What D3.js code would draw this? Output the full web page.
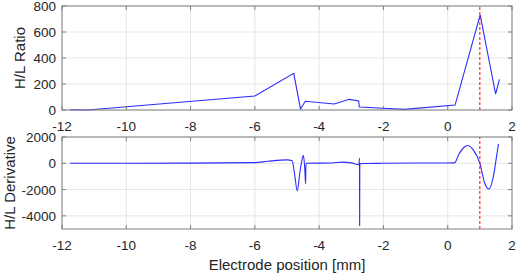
<!DOCTYPE html>
<html>
<head>
<meta charset="utf-8">
<script src="https://cdn.jsdelivr.net/npm/d3@7"></script>
<style>
  body { margin: 0; background: #fff; }
  svg text { font-family: "Liberation Sans", Arial, sans-serif; fill: #262626; }
</style>
</head>
<body>
<div id="chart"></div>
<script>
// H/L ratio along the electrode (mm, ratio)
const ratioX = [-11.75, -11.2, -6.0, -4.79, -4.58, -4.43, -3.53, -3.06, -2.77, -2.75, -2.0, -1.35, 0.23, 1.01, 1.49, 1.61];
const ratioY = [2, 0, 108, 282, 8, 67, 46, 82, 69, 23, 13, 5, 38, 731, 123, 236];

// derivative of the H/L ratio
const derivX = [-11.75, -8.0, -6.0, -5.6, -5.0, -4.84, -4.76, -4.68, -4.6, -4.53, -4.49, -4.45, -4.42, -4.41, -3.6, -3.3, -3.0, -2.76, -2.745, -2.74, -2.735, -2.6, -2.0, -1.0, 0.21, 0.35, 0.5, 0.62, 0.8, 1.0, 1.15, 1.28, 1.42, 1.5, 1.58];
const derivY = [0, 10, 50, 150, 260, 200, -900, -2100, -700, 300, 600, -300, -1560, 0, 20, 90, 30, -100, 400, -4750, -40, -20, 0, 20, 30, 700, 1200, 1350, 1000, 0, -1500, -1960, -1000, 200, 1480];

const xTicks = [-12, -10, -8, -6, -4, -2, 0, 2];
const ratioTicks = [0, 200, 400, 600, 800];
const derivTicks = [-4000, -2000, 0, 2000];
const markerX = 1.0;

const width = 522, height = 277;
const svg = d3.select('#chart').append('svg')
    .attr('width', width)
    .attr('height', height);

const x = d3.scaleLinear().domain([-12, 2]).range([62, 512]);

// one panel: box, grid, ticks, line
function drawPanel(xs, ys, yDomain, yRange, yTicks, label, labelX, curve) {
    const y = d3.scaleLinear().domain(yDomain).range(yRange);
    const g = svg.append('g');

    // grid
    g.selectAll('.gx').data(xTicks).enter().append('line')
        .attr('x1', d => x(d)).attr('x2', d => x(d))
        .attr('y1', yRange[0]).attr('y2', yRange[1])
        .attr('stroke', '#e6e6e6');
    g.selectAll('.gy').data(yTicks).enter().append('line')
        .attr('x1', 62).attr('x2', 512)
        .attr('y1', d => y(d)).attr('y2', d => y(d))
        .attr('stroke', '#e6e6e6');

    // data line
    const pts = xs.map((d, i) => [d, ys[i]]);
    g.append('path')
        .datum(pts)
        .attr('fill', 'none')
        .attr('stroke', '#2b2bff')
        .attr('stroke-width', 1.1)
        .attr('d', d3.line().x(d => x(d[0])).y(d => y(d[1])).curve(curve));

    // marker line
    g.append('line')
        .attr('x1', x(markerX)).attr('x2', x(markerX))
        .attr('y1', yRange[0]).attr('y2', yRange[1])
        .attr('stroke', '#ff0000')
        .attr('stroke-dasharray', '3,2');

    // box + inward ticks
    g.append('rect')
        .attr('x', 62).attr('y', yRange[1])
        .attr('width', 450).attr('height', yRange[0] - yRange[1])
        .attr('fill', 'none').attr('stroke', '#808080');
    xTicks.forEach(t => {
        g.append('line').attr('x1', x(t)).attr('x2', x(t))
            .attr('y1', yRange[0]).attr('y2', yRange[0] - 4).attr('stroke', '#808080');
        g.append('line').attr('x1', x(t)).attr('x2', x(t))
            .attr('y1', yRange[1]).attr('y2', yRange[1] + 4).attr('stroke', '#808080');
    });
    yTicks.forEach(t => {
        g.append('line').attr('x1', 62).attr('x2', 66)
            .attr('y1', y(t)).attr('y2', y(t)).attr('stroke', '#808080');
        g.append('line').attr('x1', 512).attr('x2', 508)
            .attr('y1', y(t)).attr('y2', y(t)).attr('stroke', '#808080');
    });

    // tick labels
    g.selectAll('.xl').data(xTicks).enter().append('text')
        .attr('x', d => x(d)).attr('y', yRange[0] + 20.5)
        .attr('text-anchor', 'middle')
        .style('font-size', '13.5px')
        .text(d => d);
    g.selectAll('.yl').data(yTicks).enter().append('text')
        .attr('x', 56).attr('y', d => y(d) + 5)
        .attr('text-anchor', 'end')
        .style('font-size', '13.5px')
        .text(d => d);

    g.append('text')
        .attr('transform', `translate(${labelX},${(yRange[0] + yRange[1]) / 2}) rotate(-90)`)
        .attr('text-anchor', 'middle')
        .style('font-size', '15px')
        .text(label);
}

drawPanel(ratioX, ratioY, [0, 800], [110, 6], ratioTicks, 'H/L Ratio', 25, d3.curveLinear);
drawPanel(derivX, derivY, [-5000, 2000], [229, 137], derivTicks, 'H/L Derivative', 15, d3.curveMonotoneX);

svg.append('text')
    .attr('x', 287).attr('y', 270)
    .attr('text-anchor', 'middle')
    .style('font-size', '15px')
    .text('Electrode position [mm]');
</script>
</body>
</html>
